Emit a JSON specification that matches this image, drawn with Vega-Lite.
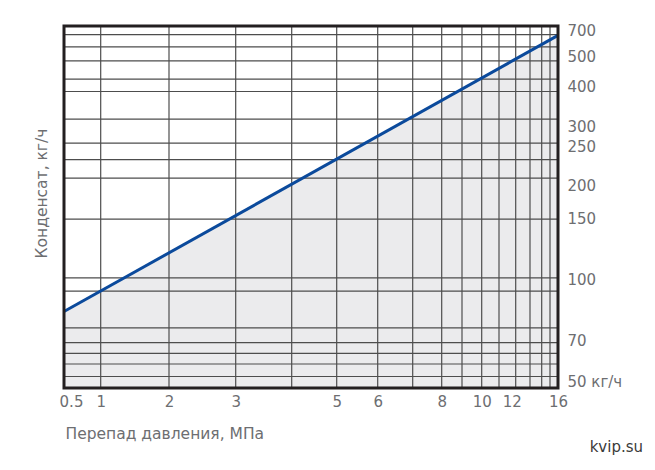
{
  "$schema": "https://vega.github.io/schema/vega-lite/v6.json",
  "width": 494,
  "height": 362,
  "autosize": {"type": "none"},
  "padding": {"left": 64, "top": 26, "right": 97, "bottom": 82},
  "background": "white",
  "datasets": {
    "curve": [{"x": 0.5, "y": 84}, {"x": 16, "y": 660}],
    "xgrid": [{"x": 1}, {"x": 2}, {"x": 3}, {"x": 4}, {"x": 5}, {"x": 6}, {"x": 7}, {"x": 8}, {"x": 9}, {"x": 10}, {"x": 11}, {"x": 12}, {"x": 13}, {"x": 14}, {"x": 15}],
    "ygrid": [{"y": 666}, {"y": 573}, {"y": 486}, {"y": 425}, {"y": 388}, {"y": 319}, {"y": 259}, {"y": 233}, {"y": 209}, {"y": 149.4}, {"y": 101}, {"y": 94}, {"y": 76}, {"y": 68.7}, {"y": 63.6}, {"y": 58.5}, {"y": 52.5}],
    "frame": [{"x0": 0.5, "x1": 16, "y0": 47, "y1": 730}]
  },
  "title": {
    "text": "kvip.su",
    "orient": "bottom",
    "anchor": "end",
    "frame": "group",
    "align": "right",
    "dx": 85,
    "offset": -2,
    "font": "DejaVu Sans",
    "fontSize": 15,
    "fontWeight": "normal",
    "color": "#3a3a3a"
  },
  "layer": [
    {
      "data": {"name": "curve"},
      "mark": {"type": "area", "color": "#ebebed"},
      "encoding": {
        "x": {
          "field": "x", "type": "quantitative",
          "scale": {"domain": [0.5, 1, 2, 3, 4, 5, 6, 7, 8, 9, 10, 11, 12, 13, 14, 15, 16], "range": [0, 36.7, 105, 171.7, 227.7, 272.7, 313.7, 348.7, 377.7, 398, 417.7, 435, 451.7, 466, 477.7, 486, 494], "nice": false, "zero": false},
          "axis": {
            "values": [0.5, 1, 2, 3, 5, 6, 8, 10, 12, 16],
            "format": "~g",
            "grid": false, "ticks": false, "domain": false,
            "labelPadding": 6, "labelFlush": false, "labelOverlap": false, "labelBound": false,
            "labelOffset": {"condition": [{"test": "datum.value == 0.5", "value": 7}, {"test": "datum.value == 12", "value": -4}], "value": 0},
            "title": "Перепад давления, МПа",
            "titleAlign": "left", "titleX": 1, "titleY": 50, "titleBaseline": "alphabetic"
          }
        },
        "y": {
          "field": "y", "type": "quantitative",
          "scale": {"domain": [47, 50, 70, 100, 150, 200, 250, 300, 400, 500, 700, 730], "range": [362, 355.7, 314, 253, 192.3, 159, 120.7, 100.7, 60.7, 30.7, 4, 0], "nice": false, "zero": false},
          "axis": {
            "orient": "right",
            "values": [50, 70, 100, 150, 200, 250, 300, 400, 500, 700],
            "grid": false, "ticks": false, "domain": false,
            "labelPadding": 9, "labelAlign": "left", "labelBaseline": "middle", "labelOverlap": false, "labelBound": false, "labelFlush": false,
            "labelExpr": "datum.value == 50 ? '50 кг/ч' : datum.label",
            "title": "Конденсат, кг/ч",
            "titleAngle": 270, "titleX": -517, "titleY": 167, "titleAlign": "center", "titleBaseline": "middle"
          }
        },
        "y2": {"datum": 47}
      }
    },
    {
      "data": {"name": "xgrid"},
      "mark": {"type": "rule", "color": "#4d4d4d", "strokeWidth": 1.2},
      "encoding": {
        "x": {"field": "x", "type": "quantitative"}
      }
    },
    {
      "data": {"name": "ygrid"},
      "mark": {"type": "rule", "color": "#4d4d4d", "strokeWidth": 1.2},
      "encoding": {
        "y": {"field": "y", "type": "quantitative"}
      }
    },
    {
      "data": {"name": "curve"},
      "mark": {"type": "line", "color": "#0b4a9c", "strokeWidth": 3},
      "encoding": {
        "x": {"field": "x", "type": "quantitative"},
        "y": {"field": "y", "type": "quantitative"}
      }
    },
    {
      "data": {"name": "frame"},
      "mark": {"type": "rect", "filled": false, "stroke": "#231f20", "strokeWidth": 3},
      "encoding": {
        "x": {"field": "x0", "type": "quantitative"},
        "x2": {"field": "x1"},
        "y": {"field": "y0", "type": "quantitative"},
        "y2": {"field": "y1"}
      }
    }
  ],
  "config": {
    "view": {"stroke": null},
    "axis": {
      "labelFont": "DejaVu Sans", "titleFont": "DejaVu Sans",
      "labelColor": "#6d6e71", "titleColor": "#6d6e71",
      "labelFontSize": 15, "titleFontSize": 15.5, "titleFontWeight": "normal"
    }
  }
}
